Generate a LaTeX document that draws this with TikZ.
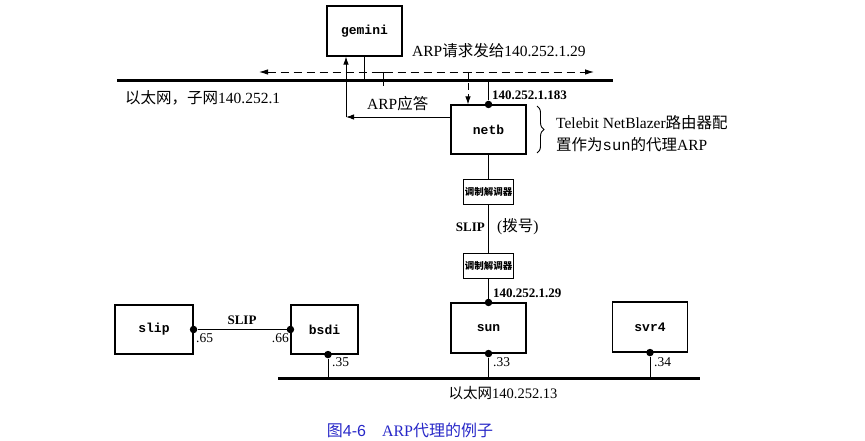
\documentclass[tikz,border=0pt]{standalone}
\usepackage{fontspec}
\setmainfont{Liberation Serif}
\setsansfont{Liberation Sans}
\setmonofont{Liberation Mono}
\newfontfamily\cjk{Noto Sans CJK SC}
\usetikzlibrary{arrows.meta,decorations.pathreplacing}
\definecolor{capblue}{RGB}{40,40,200}
\begin{document}
\begin{tikzpicture}[x=1pt,y=-1pt,
  host/.style={draw, line width=1.1pt, inner sep=0pt, minimum width=75pt, minimum height=50pt,
    font=\ttfamily\bfseries\fontsize{13}{15}\selectfont},
  modem/.style={draw, line width=0.9pt, inner sep=0pt, minimum width=50pt, minimum height=25pt,
    font=\cjk\bfseries\fontsize{9.5}{10}\selectfont},
  lab/.style={inner sep=0pt, font=\fontsize{15.5}{17}\selectfont},
  blab/.style={inner sep=0pt, font=\bfseries\fontsize{13}{15}\selectfont},
  slab/.style={inner sep=0pt, font=\fontsize{13.5}{15}\selectfont},
  ether/.style={line width=3pt},
  wire/.style={line width=0.9pt},
  dot/.style={circle, fill, inner sep=0pt, minimum size=7.5pt},
  arr/.style={-{Latex[length=8pt,width=5.5pt]}},
  darr/.style={{Latex[length=9pt,width=5.5pt]}-{Latex[length=9pt,width=5.5pt]}}
]
\useasboundingbox (0,0) rectangle (865,441);

% hosts
\node[host] (gemini) at (364.5,31) {gemini};
\node[host, minimum height=49pt] (netb) at (488.5,129.5) {netb};
\node[modem] (m1) at (488.5,191.5) {调制解调器};
\node[modem] (m2) at (488.5,265.5) {调制解调器};
\node[host, minimum width=78pt, minimum height=49pt] (slip) at (154,329.5) {slip};
\node[host, minimum width=67pt, minimum height=49pt] (bsdi) at (324.5,329.5) {bsdi};
\node[host] (sun) at (488.5,328) {sun};
\node[host] (svr4) at (650,327) {svr4};

% ethernets
\coordinate (e1l) at (117,81); \coordinate (e1r) at (613,81);
\coordinate (e2l) at (278,378); \coordinate (e2r) at (700,378);
\draw[ether] (e1l) -- (e1r);
\draw[ether] (e2l) -- (e2r);

% dots
\node[dot] (dnetb) at (netb.north) {};
\node[dot] (dsunt) at (sun.north) {};
\node[dot] (dsunb) at (sun.south) {};
\node[dot] (dslip) at (slip.east) {};
\node[dot] (dbsdiw) at (bsdi.west) {};
\node[dot] (dbsdis) at ([xshift=3.5pt]bsdi.south) {};
\node[dot] (dsvr4) at (svr4.south) {};

% wires
\draw[wire] (gemini.south) -- (gemini.south |- e1l);
\draw[wire] (dnetb) -- (dnetb |- e1l);
\draw[wire] (netb.south) -- (m1.north);
\draw[wire] (m1.south) -- (m2.north);
\draw[wire] (m2.south) -- (dsunt);
\draw[wire] (dslip) -- (dbsdiw);
\draw[wire] (dbsdis) -- (dbsdis |- e2l);
\draw[wire] (dsunb) -- (dsunb |- e2l);
\draw[wire] (dsvr4) -- (dsvr4 |- e2l);

% ARP request (dashed broadcast)
\coordinate (dl) at (259,72); \coordinate (dr) at (594,72);
\draw[wire, dash pattern=on 8pt off 5pt, darr] (dl) -- (dr);
\coordinate (tk1) at (383,72);
\draw[wire] (tk1) -- ([yshift=-14pt]tk1);
\draw[wire] ([xshift=-5pt]tk1) -- ([xshift=5pt]tk1);
\coordinate (tk2) at (468,72);
\draw[wire] ([xshift=-4pt]tk2) -- ([xshift=4pt]tk2);
\draw[wire, dash pattern=on 7pt off 4pt, arr] (tk2) -- (tk2 |- netb.north);

% ARP reply
\coordinate (rc) at (346,117);
\draw[wire, arr] (netb.west |- rc) -- (rc);
\draw[wire, arr] (rc) -- (rc |- gemini.south);

% brace
\coordinate (bt) at (537,106); \coordinate (bb) at (537,153);
\draw[wire, decorate, decoration={brace, amplitude=7pt}] (bt) -- (bb);

% labels
\node[lab, anchor=west] (lreq) at (412,51) {ARP{\cjk 请求发给}140.252.1.29};
\node[lab, anchor=west] (leth1) at (125,98) {{\cjk 以太网，子网}140.252.1};
\node[lab, anchor=west] (lrep) at (367,104) {ARP{\cjk 应答}};
\node[blab, anchor=west] (lip1) at (492,95) {140.252.1.183};
\node[lab, anchor=west] (ltel1) at (556,123) {Telebit NetBlazer{\cjk 路由器配}};
\node[lab, anchor=west] (ltel2) at (556,145) {{\cjk 置作为}{\ttfamily sun}{\cjk 的代理}ARP};
\node[blab, anchor=east] (lslip1) at (485,227) {SLIP};
\node[lab, anchor=west] (ldial) at (497,227) {({\cjk 拨号})};
\node[blab, anchor=west] (lip2) at (493,293) {140.252.1.29};
\node[blab] (lslip2) at (242,320) {SLIP};
\node[slab, anchor=west] (l65) at (196,338) {.65};
\node[slab, anchor=east] (l66) at (289,338) {.66};
\node[slab, anchor=west] (l35) at (332,362) {.35};
\node[slab, anchor=west] (l33) at (493,362) {.33};
\node[slab, anchor=west] (l34) at (654,362) {.34};
\node[inner sep=0pt, font=\fontsize{14.5}{16}\selectfont] (leth2) at (503,393) {{\cjk 以太网}140.252.13};
\node[inner sep=0pt, text=capblue, font=\fontsize{16}{18}\selectfont] (cap) at (410,430)
  {{\cjk 图}{\sffamily 4-6}\quad ARP{\cjk 代理的例子}};
\end{tikzpicture}
\end{document}
